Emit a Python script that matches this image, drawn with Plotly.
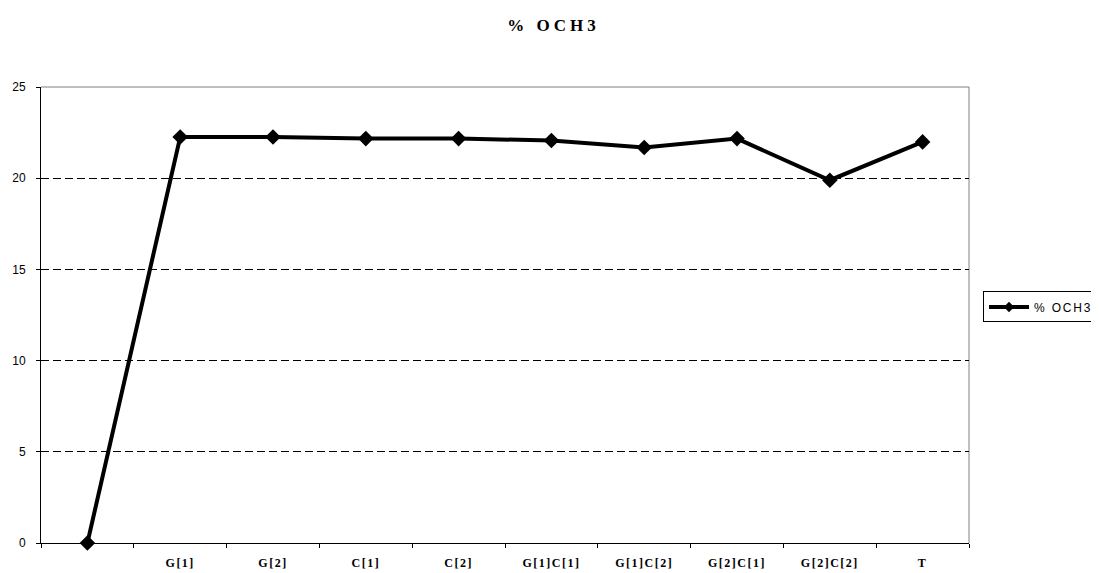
import plotly.graph_objects as go

categories = [" ", "G[1]", "G[2]", "C[1]", "C[2]", "G[1]C[1]", "G[1]C[2]", "G[2]C[1]", "G[2]C[2]", "T"]
och3_values = [0.0, 22.26, 22.26, 22.17, 22.17, 22.07, 21.68, 22.17, 19.89, 21.99]
series_name = "% OCH3"
y_ticks = [0, 5, 10, 15, 20, 25]

tick_text = ['<span style="letter-spacing:1.5px"><b>' + c + '</b></span>' for c in categories]

fig = go.Figure()
fig.add_trace(go.Scatter(
    x=categories, y=och3_values, name=series_name, mode="lines+markers",
    line=dict(color="black", width=4),
    marker=dict(symbol="diamond", size=12, color="black"),
    cliponaxis=False, showlegend=False,
))
# legend entry with the smaller marker used by the reference legend
fig.add_trace(go.Scatter(
    x=[None], y=[None], mode="lines+markers",
    name='<span style="letter-spacing:1.8px">' + series_name + '</span>',
    line=dict(color="black", width=4),
    marker=dict(symbol="diamond", size=8, color="black"),
    showlegend=True,
))

fig.update_layout(
    width=1091, height=565,
    paper_bgcolor="white", plot_bgcolor="white",
    margin=dict(l=33, r=130, t=79, b=30),
    title=dict(text='<span style="letter-spacing:4px"><b>' + series_name + '</b></span>',
               x=0.5, xanchor="center", y=0.97, yanchor="middle",
               font=dict(family="Liberation Serif", size=17, color="black")),
    showlegend=True,
    legend=dict(xref="container", x=0.8937, xanchor="left",
                yref="container", y=0.4708, yanchor="middle",
                bordercolor="black", borderwidth=1, bgcolor="white",
                font=dict(family="Liberation Sans", size=12, color="black"),
                itemwidth=40, tracegroupgap=0),
    xaxis=dict(type="category", range=[-0.5, 9.5], showgrid=False, automargin=False,
               showline=True, linecolor="black", linewidth=1,
               ticks="outside", tickson="boundaries", ticklen=4, tickcolor="black",
               tickmode="array", tickvals=categories, ticktext=tick_text,
               ticklabelstandoff=9,
               tickfont=dict(family="Liberation Serif", size=12, color="black"),
               fixedrange=True),
    yaxis=dict(range=[0, 25], tickvals=y_ticks, showgrid=True, automargin=False,
               gridcolor="black", griddash="8px,4px", gridwidth=1,
               showline=True, linecolor="black", linewidth=1,
               ticks="outside", ticklen=4, tickcolor="black",
               ticklabelstandoff=8,
               tickfont=dict(family="Liberation Sans", size=12, color="black"),
               zeroline=False, fixedrange=True),
)

fig.add_shape(type="line", xref="paper", yref="paper", x0=0, x1=1, y0=1, y1=1,
              line=dict(color="#808080", width=1), layer="above")
fig.add_shape(type="line", xref="paper", yref="paper", x0=1, x1=1, y0=0, y1=1,
              line=dict(color="#808080", width=1), layer="below")

fig.write_html("out.html")
